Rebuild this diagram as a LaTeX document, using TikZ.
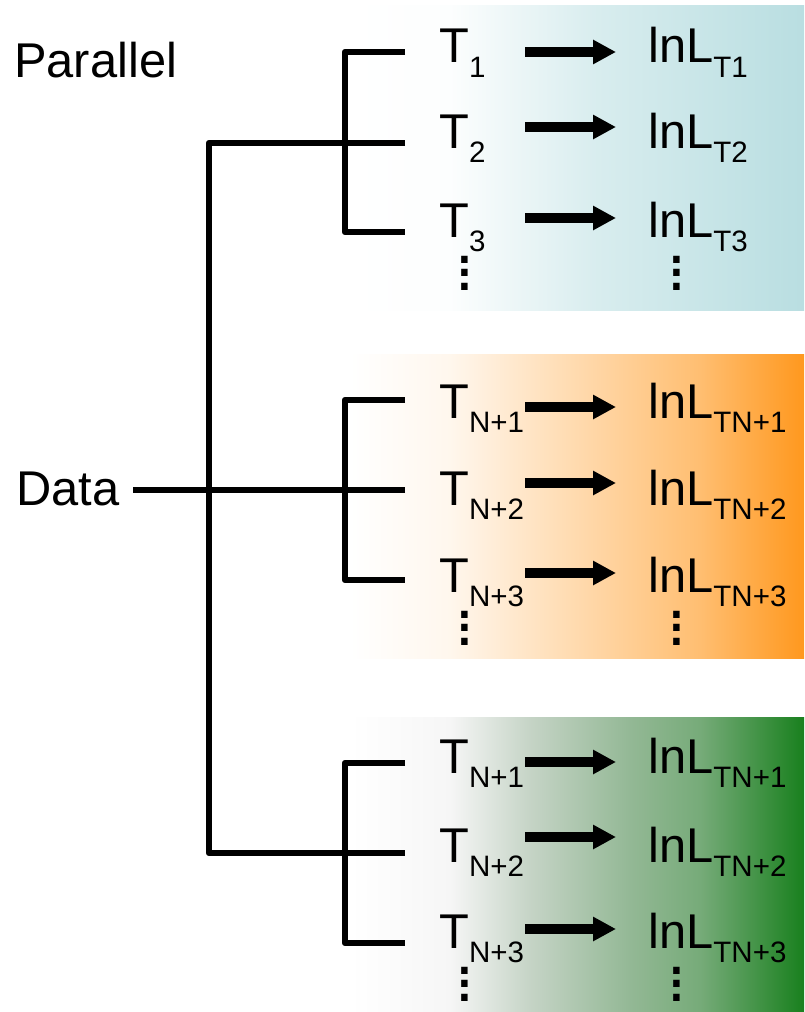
\documentclass[tikz,border=0pt]{standalone}
\usepackage{fontspec}
\setmainfont{Liberation Sans}
\usetikzlibrary{arrows.meta}
\definecolor{panelblue}{RGB}{185,222,225}
\definecolor{panelorange}{RGB}{255,152,30}
\definecolor{panelgreen}{RGB}{25,128,30}
\pgfdeclarehorizontalshading{bluefade}{100bp}{color(0bp)=(white); color(25bp)=(white);
  color(36bp)=(white!96!panelblue); color(52bp)=(white!45!panelblue); color(75bp)=(panelblue); color(100bp)=(panelblue)}
\pgfdeclarehorizontalshading{orangefade}{100bp}{color(0bp)=(white); color(25bp)=(white);
  color(36bp)=(white!92!panelorange); color(52bp)=(white!60!panelorange); color(63.5bp)=(white!37!panelorange);
  color(75bp)=(panelorange); color(100bp)=(panelorange)}
\pgfdeclarehorizontalshading{greenfade}{100bp}{color(0bp)=(white); color(25bp)=(white);
  color(36bp)=(white!93!gray); color(45bp)=(white!82!panelgreen!80!gray); color(56bp)=(white!55!panelgreen!80!gray);
  color(63.5bp)=(white!40!panelgreen!85!gray); color(75bp)=(panelgreen); color(100bp)=(panelgreen)}
\newcommand\lowsub[1]{\raisebox{-0.35cm}{\fontsize{21pt}{22pt}\selectfont #1}}
\tikzset{
  lbl/.style={anchor=base west, inner sep=0pt, font=\fontsize{34.7pt}{40pt}\selectfont},
  tree/.style={line width=0.16cm, line join=round},
  arr/.style={line width=0.25cm, -{Triangle[length=0.575cm,width=0.575cm]}},
  vdotsbox/.style={inner sep=0pt, align=center, font=\fontsize{48pt}{9.57pt}\selectfont},
}

\begin{document}
\begin{tikzpicture}[x=0.025cm, y=-0.025cm]
  \useasboundingbox (0,0) rectangle (804,1012);
  % background panels
  \fill[shading=bluefade] (350,6) rectangle (804,310);
  \fill[shading=orangefade] (350,354) rectangle (804,658);
  \fill[shading=greenfade] (350,717) rectangle (804,1012);

  \node[lbl] (parallel) at (14,78) {Parallel};
  \node[lbl] (data) at (16,505) {Data};

  % brackets of each group
  \coordinate (bx) at (345,0);
  \coordinate (trunk) at (209,0);
  \foreach \ya/\yb/\yc [count=\g] in {52/143/232, 490/490/580, 763/853/943}{
      \coordinate (S-\g-1) at (405,\ya);
      \coordinate (S-\g-2) at (405,\yb);
      \coordinate (S-\g-3) at (405,\yc);
      \draw[tree] (S-\g-1) -- (S-\g-1 -| bx) -- (S-\g-3 -| bx) -- (S-\g-3);
    }
  \coordinate (S-2-1) at (405,400);
  \draw[tree] (S-2-1) -- (S-2-1 -| bx) -- (S-2-3 -| bx);
  \draw[tree] (S-1-2) -- (S-1-2 -| trunk) -- (S-3-2 -| trunk) -- (S-3-2);
  \coordinate (data-out) at (133,490);
  \draw[tree] (data-out) -- (S-2-2);

  % rows: baseline / arrow height / index
  \foreach \base/\ay/\sub [count=\i] in {63/52/1, 148/127/2, 237/218/3,
      418/407/N+1, 505/483/N+2, 592/573/N+3,
      773/762/N+1, 862/837/N+2, 948/929/N+3}{
      \node[lbl] (T-\i) at (439,\base) {T\lowsub{\sub}};
      \node[lbl] (L-\i) at (648,\base) {lnL\lowsub{T\sub}};
      \coordinate (A-\i) at (525,\ay);
      \coordinate (B-\i) at (616,\ay);
      \draw[arr] (A-\i) -- (B-\i);
    }

  % dots below each column
  \foreach \y [count=\g] in {273, 628, 984}{
      \node[vdotsbox] (VT-\g) at (465,\y) {.\\.\\.};
      \node[vdotsbox] (VL-\g) at (677,\y) {.\\.\\.};
    }
\end{tikzpicture}
\end{document}
